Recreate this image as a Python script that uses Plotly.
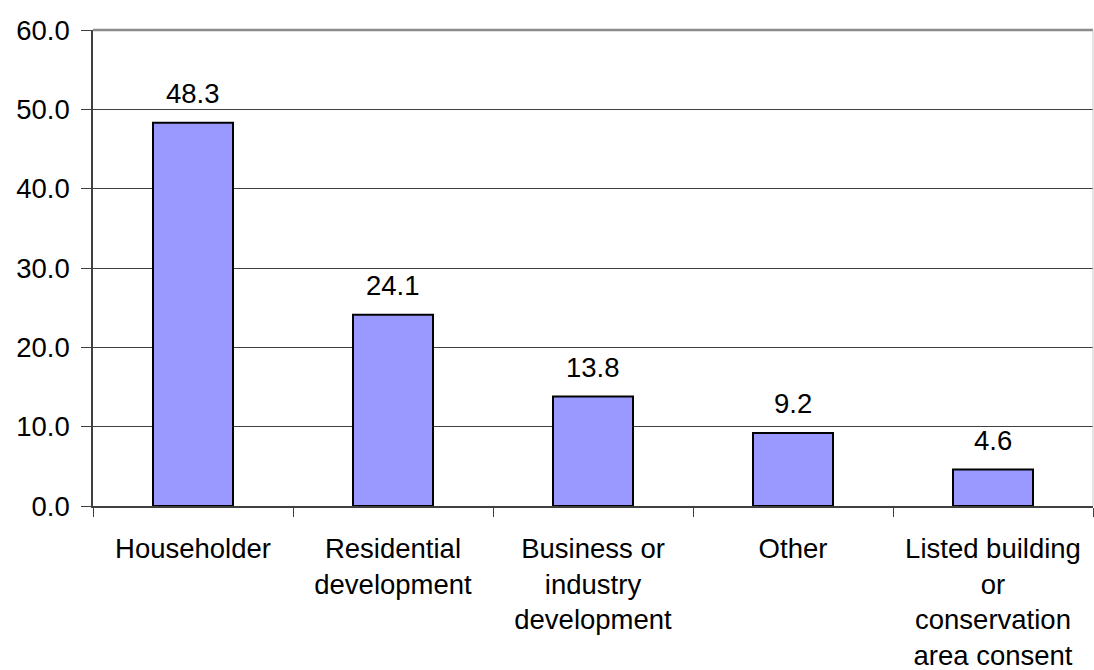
import plotly.graph_objects as go

# Share of applications by type (%)
categories = [
    "Householder",
    "Residential<br>development",
    "Business or<br>industry<br>development",
    "Other",
    "Listed building<br>or<br>conservation<br>area consent",
]
values = [48.3, 24.1, 13.8, 9.2, 4.6]
y_ticks = [0, 10, 20, 30, 40, 50, 60]
y_tick_labels = [f"{v:.1f}" for v in y_ticks]

FONT = "Liberation Sans, Arial, sans-serif"
FONT_SIZE = 27.5
AXIS_COLOR = "#404040"

fig = go.Figure()
fig.add_trace(
    go.Bar(
        x=categories,
        y=values,
        width=0.4,
        marker=dict(color="#9999FF", line=dict(color="#000000", width=2)),
        hoverinfo="skip",
    )
)

# value labels above each bar
for cat, val in zip(categories, values):
    fig.add_annotation(
        x=cat, y=val, text=f"{val:.1f}", showarrow=False,
        yanchor="bottom", yshift=12,
        font=dict(family=FONT, size=FONT_SIZE, color="#000000"),
    )

# plot-area frame: heavier grey top edge, light right edge
fig.add_shape(type="line", xref="paper", yref="paper", x0=0, x1=1, y0=1, y1=1,
              line=dict(color="#8c8c8c", width=2.5))
fig.add_shape(type="line", xref="paper", yref="paper", x0=1, x1=1, y0=0, y1=1,
              line=dict(color="#c8c8c8", width=1))

fig.update_layout(
    width=1094, height=670,
    margin=dict(l=93, r=1, t=29.5, b=163.5, autoexpand=False),
    paper_bgcolor="white", plot_bgcolor="white",
    showlegend=False,
    font=dict(family=FONT, size=FONT_SIZE, color="#000000"),
    xaxis=dict(
        type="category",
        range=[-0.5, 4.5],
        automargin=False,
        showgrid=False,
        showline=True, linecolor=AXIS_COLOR, linewidth=1.5,
        ticks="outside", tickson="boundaries", ticklen=9,
        tickcolor=AXIS_COLOR, tickwidth=1,
        tickfont=dict(family=FONT, size=FONT_SIZE, color="#000000"),
        ticklabelstandoff=17,
        tickangle=0,
    ),
    yaxis=dict(
        range=[0, 60],
        automargin=False,
        tickvals=y_ticks, ticktext=y_tick_labels,
        showgrid=True, gridcolor=AXIS_COLOR, gridwidth=1,
        showline=True, linecolor=AXIS_COLOR, linewidth=1.5,
        ticks="outside", ticklen=10, tickcolor=AXIS_COLOR, tickwidth=1,
        tickfont=dict(family=FONT, size=FONT_SIZE, color="#000000"),
        ticklabelstandoff=6,
        zeroline=False,
    ),
)

fig.write_html("out.html")
